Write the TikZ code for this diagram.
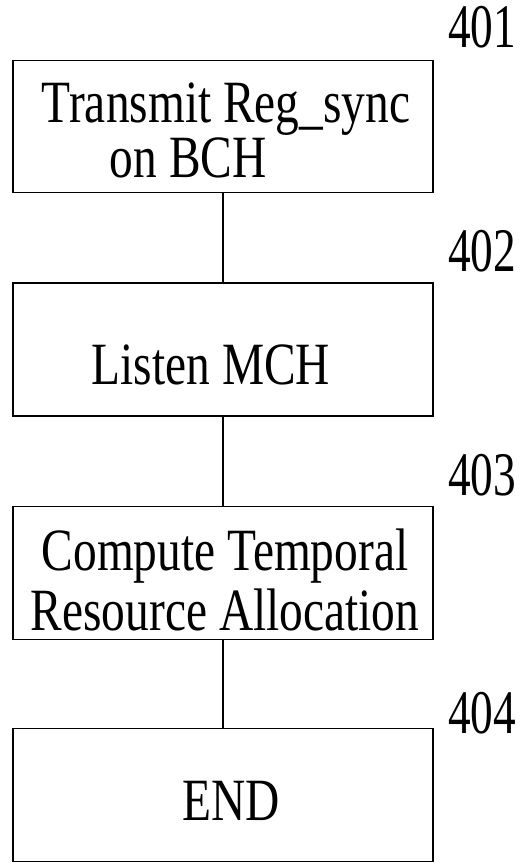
\documentclass[tikz,border=0pt]{standalone}
\usepackage{fontspec}
\setmainfont{Liberation Serif}
\newfontfamily\boxfont[FakeStretch=0.79]{Liberation Serif}
\newfontfamily\numfont[FakeStretch=0.73]{Liberation Serif}
\begin{document}
\begin{tikzpicture}[x=1pt,y=-1pt,
  stepbox/.style={draw, line width=1.6pt, minimum width=420pt, inner sep=0pt,
    font=\boxfont\fontsize{60}{60}\selectfont},
  reflabel/.style={font=\numfont\fontsize{62}{62}\selectfont, inner sep=0pt},
  link/.style={line width=1.6pt}]
\useasboundingbox (0,0) rectangle (521,863);
\node[stepbox, minimum height=132pt, font=\boxfont\fontsize{60}{50}\selectfont] (s1) at (223,126.5)
  {\raisebox{-11pt}[\height][\depth]{\hspace*{6pt}\begin{tabular}{@{}l@{}}Transmit Reg\_sync\\\hspace*{68pt}on BCH\end{tabular}}};
\node[stepbox, minimum height=133pt] (s2) at (223,349.5)
  {\raisebox{-15pt}[\height][\depth]{\hspace*{-24pt}Listen MCH}};
\node[stepbox, minimum height=133pt] (s3) at (223,573)
  {\raisebox{-15pt}[\height][\depth]{\hspace*{4pt}\begin{tabular}{@{}c@{}}Compute Temporal\\Resource Allocation\end{tabular}}};
\node[stepbox, minimum height=133pt] (s4) at (223,795)
  {\raisebox{-5.5pt}[\height][\depth]{\hspace*{17pt}END}};
\node[reflabel] (l1) at (482,27) {401};
\node[reflabel] (l2) at (482,251.5) {402};
\node[reflabel] (l3) at (482,475.5) {403};
\node[reflabel] (l4) at (482,713.5) {404};
\draw[link] (s1.south) -- (s2.north);
\draw[link] (s2.south) -- (s3.north);
\draw[link] (s3.south) -- (s4.north);
\end{tikzpicture}
\end{document}
